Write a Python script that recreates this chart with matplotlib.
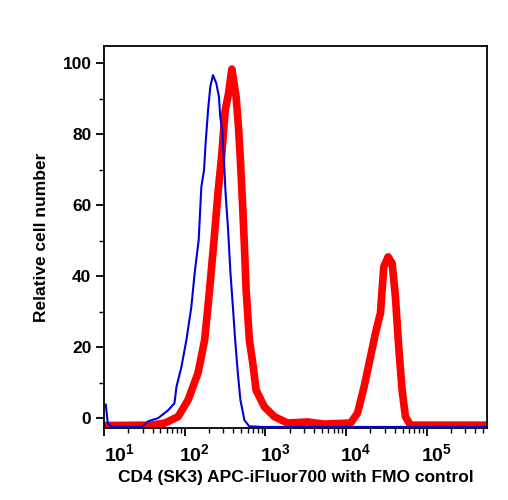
import numpy as np
import matplotlib
matplotlib.use("Agg")
import matplotlib.pyplot as plt
from matplotlib.ticker import LogLocator, NullFormatter, MultipleLocator
from matplotlib.transforms import ScaledTranslation

plt.rcParams["font.family"] = ["Liberation Sans", "DejaVu Sans"]
plt.rcParams["font.weight"] = "bold"
plt.rcParams["mathtext.fontset"] = "custom"
plt.rcParams["mathtext.rm"] = "Liberation Sans:bold"
plt.rcParams["mathtext.bf"] = "Liberation Sans:bold"

# FMO control (blue), log10 of intensity and relative count
blue_log = [1.022, 1.047, 1.096, 1.466, 1.549, 1.672, 1.795, 1.873, 1.898, 1.959,
            2.021, 2.082, 2.123, 2.173, 2.206, 2.239, 2.259, 2.289, 2.317, 2.350,
            2.391, 2.424, 2.440, 2.465, 2.486, 2.506, 2.535, 2.567, 2.597, 2.625,
            2.658, 2.690, 2.740, 2.798, 2.946, 5.745]
blue_y = [3.9, -1.3, -2.4, -2.4, -0.8, 0.1, 2.3, 4.3, 8.9, 14.5,
          22.1, 31.4, 40.9, 50.2, 65.2, 69.9, 77.5, 86.8, 93.4, 96.7,
          94.4, 90.6, 85.0, 81.2, 72.8, 63.5, 54.0, 40.9, 31.4, 22.1,
          12.8, 5.2, -0.5, -2.2, -2.4, -2.4]

# CD4 stained (red)
red_log = [1.022, 1.589, 1.753, 1.919, 2.042, 2.165, 2.247, 2.308, 2.363, 2.412,
           2.453, 2.502, 2.543, 2.584, 2.637, 2.666, 2.690, 2.720, 2.740, 2.761,
           2.801, 2.843, 2.884, 2.986, 3.110, 3.275, 3.522, 3.723, 4.055, 4.141,
           4.222, 4.302, 4.363, 4.425, 4.466, 4.520, 4.570, 4.610, 4.651, 4.693,
           4.734, 4.796, 5.745]
red_y = [-2.0, -1.9, -1.3, 0.5, 5.2, 12.8, 22.1, 36.2, 50.2, 63.5,
         72.8, 86.8, 91.5, 98.4, 90.6, 82.1, 72.8, 58.7, 48.3, 36.2,
         22.1, 15.6, 8.0, 3.3, 0.5, -1.3, -1.0, -1.6, -1.3, 1.5,
         8.9, 17.4, 24.0, 29.7, 42.7, 45.5, 43.7, 34.3, 20.2, 8.0,
         0.5, -1.9, -1.9]

xticks = [1e1, 1e2, 1e3, 1e4, 1e5]
xtick_labels = [r"$10^{1}$", r"$10^{2}$", r"$10^{3}$", r"$10^{4}$", r"$10^{5}$"]
yticks = [0, 20, 40, 60, 80, 100]

fig = plt.figure(figsize=(5.08, 5.0), dpi=100)
ax = fig.add_axes([0.2047, 0.144, 0.7540, 0.764])

ax.plot(np.power(10.0, blue_log), blue_y, color="#0000dd", linewidth=1.5, zorder=3)
ax.plot(np.power(10.0, red_log), red_y, color="#ff0000", linewidth=5.5,
        solid_joinstyle="round", zorder=2)

ax.set_xscale("log")
ax.set_xlim(10.5, 5.56e5)
ax.set_ylim(-2.7, 104.9)

ax.set_xticks(xticks)
ax.set_xticklabels(xtick_labels)
ax.xaxis.set_minor_locator(LogLocator(base=10, subs=np.arange(2, 10), numticks=20))
ax.xaxis.set_minor_formatter(NullFormatter())
ax.set_yticks(yticks)
ax.yaxis.set_minor_locator(MultipleLocator(10))

ax.tick_params(axis="both", which="major", direction="out", length=6, width=1.3,
               labelsize=12.5, pad=3)
ax.tick_params(axis="both", which="minor", direction="out", length=3.5, width=1.0)
ax.tick_params(axis="x", which="major", labelsize=14, pad=5)

for i, lab in enumerate(ax.get_xticklabels()):
    dx = 16 if i == 0 else 10
    lab.set_transform(lab.get_transform() + ScaledTranslation(dx / 100, 0, fig.dpi_scale_trans))

for s in ax.spines.values():
    s.set_linewidth(1.3)

ax.set_xlabel("CD4 (SK3) APC-iFluor700 with FMO control", fontsize=12.5,
              fontweight="bold", labelpad=3)
ax.set_ylabel("Relative cell number", fontsize=12.5, fontweight="bold", labelpad=10)

fig.savefig("out.png", dpi=100)
